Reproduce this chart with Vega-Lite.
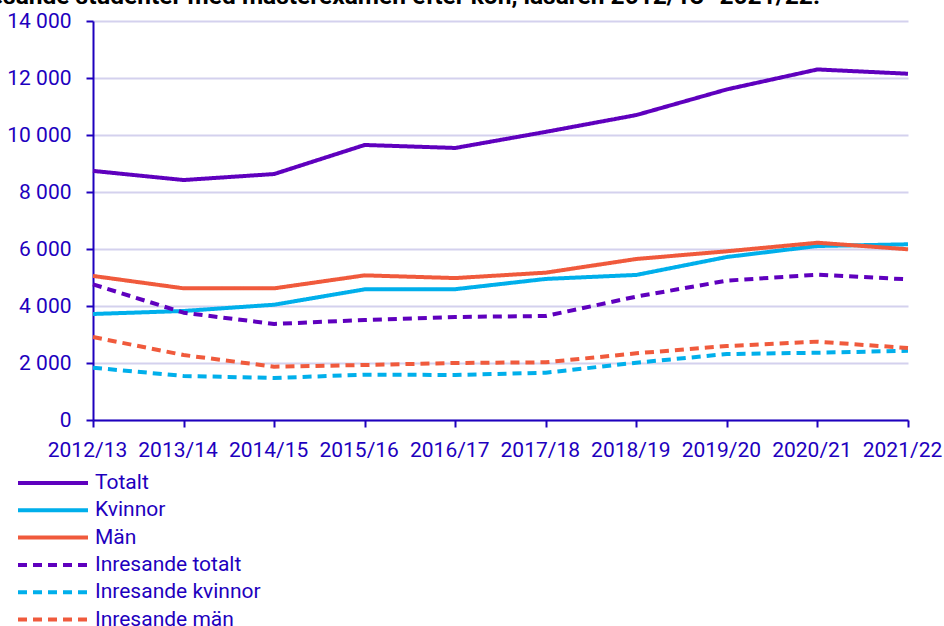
{
  "$schema": "https://vega.github.io/schema/vega-lite/v6.json",
  "autosize": "none",
  "width": 815,
  "height": 399,
  "padding": {"left": 93, "top": 21, "right": 36, "bottom": 206},
  "background": "white",
  "title": {
    "text": "Examinerade och inresande studenter med masterexamen efter kön, läsåren 2012/13–2021/22.",
    "anchor": "end",
    "frame": "group",
    "dx": -88,
    "dy": 18,
    "offset": 0,
    "baseline": "alphabetic",
    "font": "Roboto",
    "fontSize": 24.5,
    "fontWeight": "bold",
    "color": "#000000",
    "limit": 2000
  },
  "config": {
    "view": {"stroke": null},
    "font": "Roboto",
    "axis": {
      "labelFont": "Roboto",
      "labelFontSize": 21,
      "labelColor": "#1E00BE",
      "domainColor": "#1E00BE",
      "domainWidth": 2,
      "tickColor": "#1E00BE",
      "tickWidth": 2,
      "tickSize": 7,
      "title": null
    },
    "legend": {
      "labelFont": "Roboto",
      "labelFontSize": 21,
      "labelColor": "#1E00BE",
      "labelLimit": 400
    }
  },
  "data": {
    "values": [
      {"ar": "2012/13", "serie": "Totalt", "antal": 8740},
      {"ar": "2013/14", "serie": "Totalt", "antal": 8420},
      {"ar": "2014/15", "serie": "Totalt", "antal": 8630},
      {"ar": "2015/16", "serie": "Totalt", "antal": 9650},
      {"ar": "2016/17", "serie": "Totalt", "antal": 9545},
      {"ar": "2017/18", "serie": "Totalt", "antal": 10110},
      {"ar": "2018/19", "serie": "Totalt", "antal": 10700},
      {"ar": "2019/20", "serie": "Totalt", "antal": 11600},
      {"ar": "2020/21", "serie": "Totalt", "antal": 12300},
      {"ar": "2021/22", "serie": "Totalt", "antal": 12150},
      {"ar": "2012/13", "serie": "Kvinnor", "antal": 3720},
      {"ar": "2013/14", "serie": "Kvinnor", "antal": 3825},
      {"ar": "2014/15", "serie": "Kvinnor", "antal": 4045},
      {"ar": "2015/16", "serie": "Kvinnor", "antal": 4585},
      {"ar": "2016/17", "serie": "Kvinnor", "antal": 4590},
      {"ar": "2017/18", "serie": "Kvinnor", "antal": 4950},
      {"ar": "2018/19", "serie": "Kvinnor", "antal": 5090},
      {"ar": "2019/20", "serie": "Kvinnor", "antal": 5720},
      {"ar": "2020/21", "serie": "Kvinnor", "antal": 6105},
      {"ar": "2021/22", "serie": "Kvinnor", "antal": 6165},
      {"ar": "2012/13", "serie": "Män", "antal": 5055},
      {"ar": "2013/14", "serie": "Män", "antal": 4620},
      {"ar": "2014/15", "serie": "Män", "antal": 4620},
      {"ar": "2015/16", "serie": "Män", "antal": 5075},
      {"ar": "2016/17", "serie": "Män", "antal": 4980},
      {"ar": "2017/18", "serie": "Män", "antal": 5170},
      {"ar": "2018/19", "serie": "Män", "antal": 5650},
      {"ar": "2019/20", "serie": "Män", "antal": 5920},
      {"ar": "2020/21", "serie": "Män", "antal": 6220},
      {"ar": "2021/22", "serie": "Män", "antal": 5990},
      {"ar": "2012/13", "serie": "Inresande totalt", "antal": 4760},
      {"ar": "2013/14", "serie": "Inresande totalt", "antal": 3765},
      {"ar": "2014/15", "serie": "Inresande totalt", "antal": 3370},
      {"ar": "2015/16", "serie": "Inresande totalt", "antal": 3510},
      {"ar": "2016/17", "serie": "Inresande totalt", "antal": 3615},
      {"ar": "2017/18", "serie": "Inresande totalt", "antal": 3650},
      {"ar": "2018/19", "serie": "Inresande totalt", "antal": 4330},
      {"ar": "2019/20", "serie": "Inresande totalt", "antal": 4890},
      {"ar": "2020/21", "serie": "Inresande totalt", "antal": 5100},
      {"ar": "2021/22", "serie": "Inresande totalt", "antal": 4935},
      {"ar": "2012/13", "serie": "Inresande kvinnor", "antal": 1835},
      {"ar": "2013/14", "serie": "Inresande kvinnor", "antal": 1545},
      {"ar": "2014/15", "serie": "Inresande kvinnor", "antal": 1475},
      {"ar": "2015/16", "serie": "Inresande kvinnor", "antal": 1590},
      {"ar": "2016/17", "serie": "Inresande kvinnor", "antal": 1580},
      {"ar": "2017/18", "serie": "Inresande kvinnor", "antal": 1660},
      {"ar": "2018/19", "serie": "Inresande kvinnor", "antal": 2010},
      {"ar": "2019/20", "serie": "Inresande kvinnor", "antal": 2315},
      {"ar": "2020/21", "serie": "Inresande kvinnor", "antal": 2360},
      {"ar": "2021/22", "serie": "Inresande kvinnor", "antal": 2430},
      {"ar": "2012/13", "serie": "Inresande män", "antal": 2910},
      {"ar": "2013/14", "serie": "Inresande män", "antal": 2280},
      {"ar": "2014/15", "serie": "Inresande män", "antal": 1870},
      {"ar": "2015/16", "serie": "Inresande män", "antal": 1930},
      {"ar": "2016/17", "serie": "Inresande män", "antal": 2000},
      {"ar": "2017/18", "serie": "Inresande män", "antal": 2025},
      {"ar": "2018/19", "serie": "Inresande män", "antal": 2340},
      {"ar": "2019/20", "serie": "Inresande män", "antal": 2595},
      {"ar": "2020/21", "serie": "Inresande män", "antal": 2750},
      {"ar": "2021/22", "serie": "Inresande män", "antal": 2525}
    ]
  },
  "mark": {"type": "line", "strokeWidth": 4, "strokeCap": "butt", "strokeJoin": "round"},
  "encoding": {
    "x": {
      "field": "ar",
      "type": "ordinal",
      "sort": null,
      "scale": {"type": "point", "padding": 0},
      "axis": {"labelAngle": 0, "labelPadding": 12, "labelOffset": -6, "labelBound": false, "labelOverlap": false, "grid": false}
    },
    "y": {
      "field": "antal",
      "type": "quantitative",
      "scale": {"domain": [0, 14000], "nice": false},
      "axis": {
        "values": [0, 2000, 4000, 6000, 8000, 10000, 12000, 14000],
        "labelExpr": "replace(format(datum.value, ','), ',', ' ')",
        "labelPadding": 15,
        "grid": true,
        "gridColor": "#D4D1EE",
        "gridWidth": 2
      }
    },
    "color": {
      "field": "serie",
      "type": "nominal",
      "scale": {
        "domain": ["Totalt", "Kvinnor", "Män", "Inresande totalt", "Inresande kvinnor", "Inresande män"],
        "range": ["#5F00BE", "#00AFEB", "#F05A3C", "#5F00BE", "#00AFEB", "#F05A3C"]
      },
      "legend": {
        "title": null,
        "orient": "none",
        "legendX": -75,
        "legendY": 450,
        "direction": "vertical",
        "symbolType": "M-1.2,0H5.8",
        "symbolSize": 400,
        "symbolStrokeWidth": 4,
        "labelOffset": 53,
        "rowPadding": 5.3
      }
    },
    "strokeDash": {
      "field": "serie",
      "type": "nominal",
      "scale": {
        "domain": ["Totalt", "Kvinnor", "Män", "Inresande totalt", "Inresande kvinnor", "Inresande män"],
        "range": [[1, 0], [1, 0], [1, 0], [9, 6], [9, 6], [9, 6]]
      }
    }
  }
}
